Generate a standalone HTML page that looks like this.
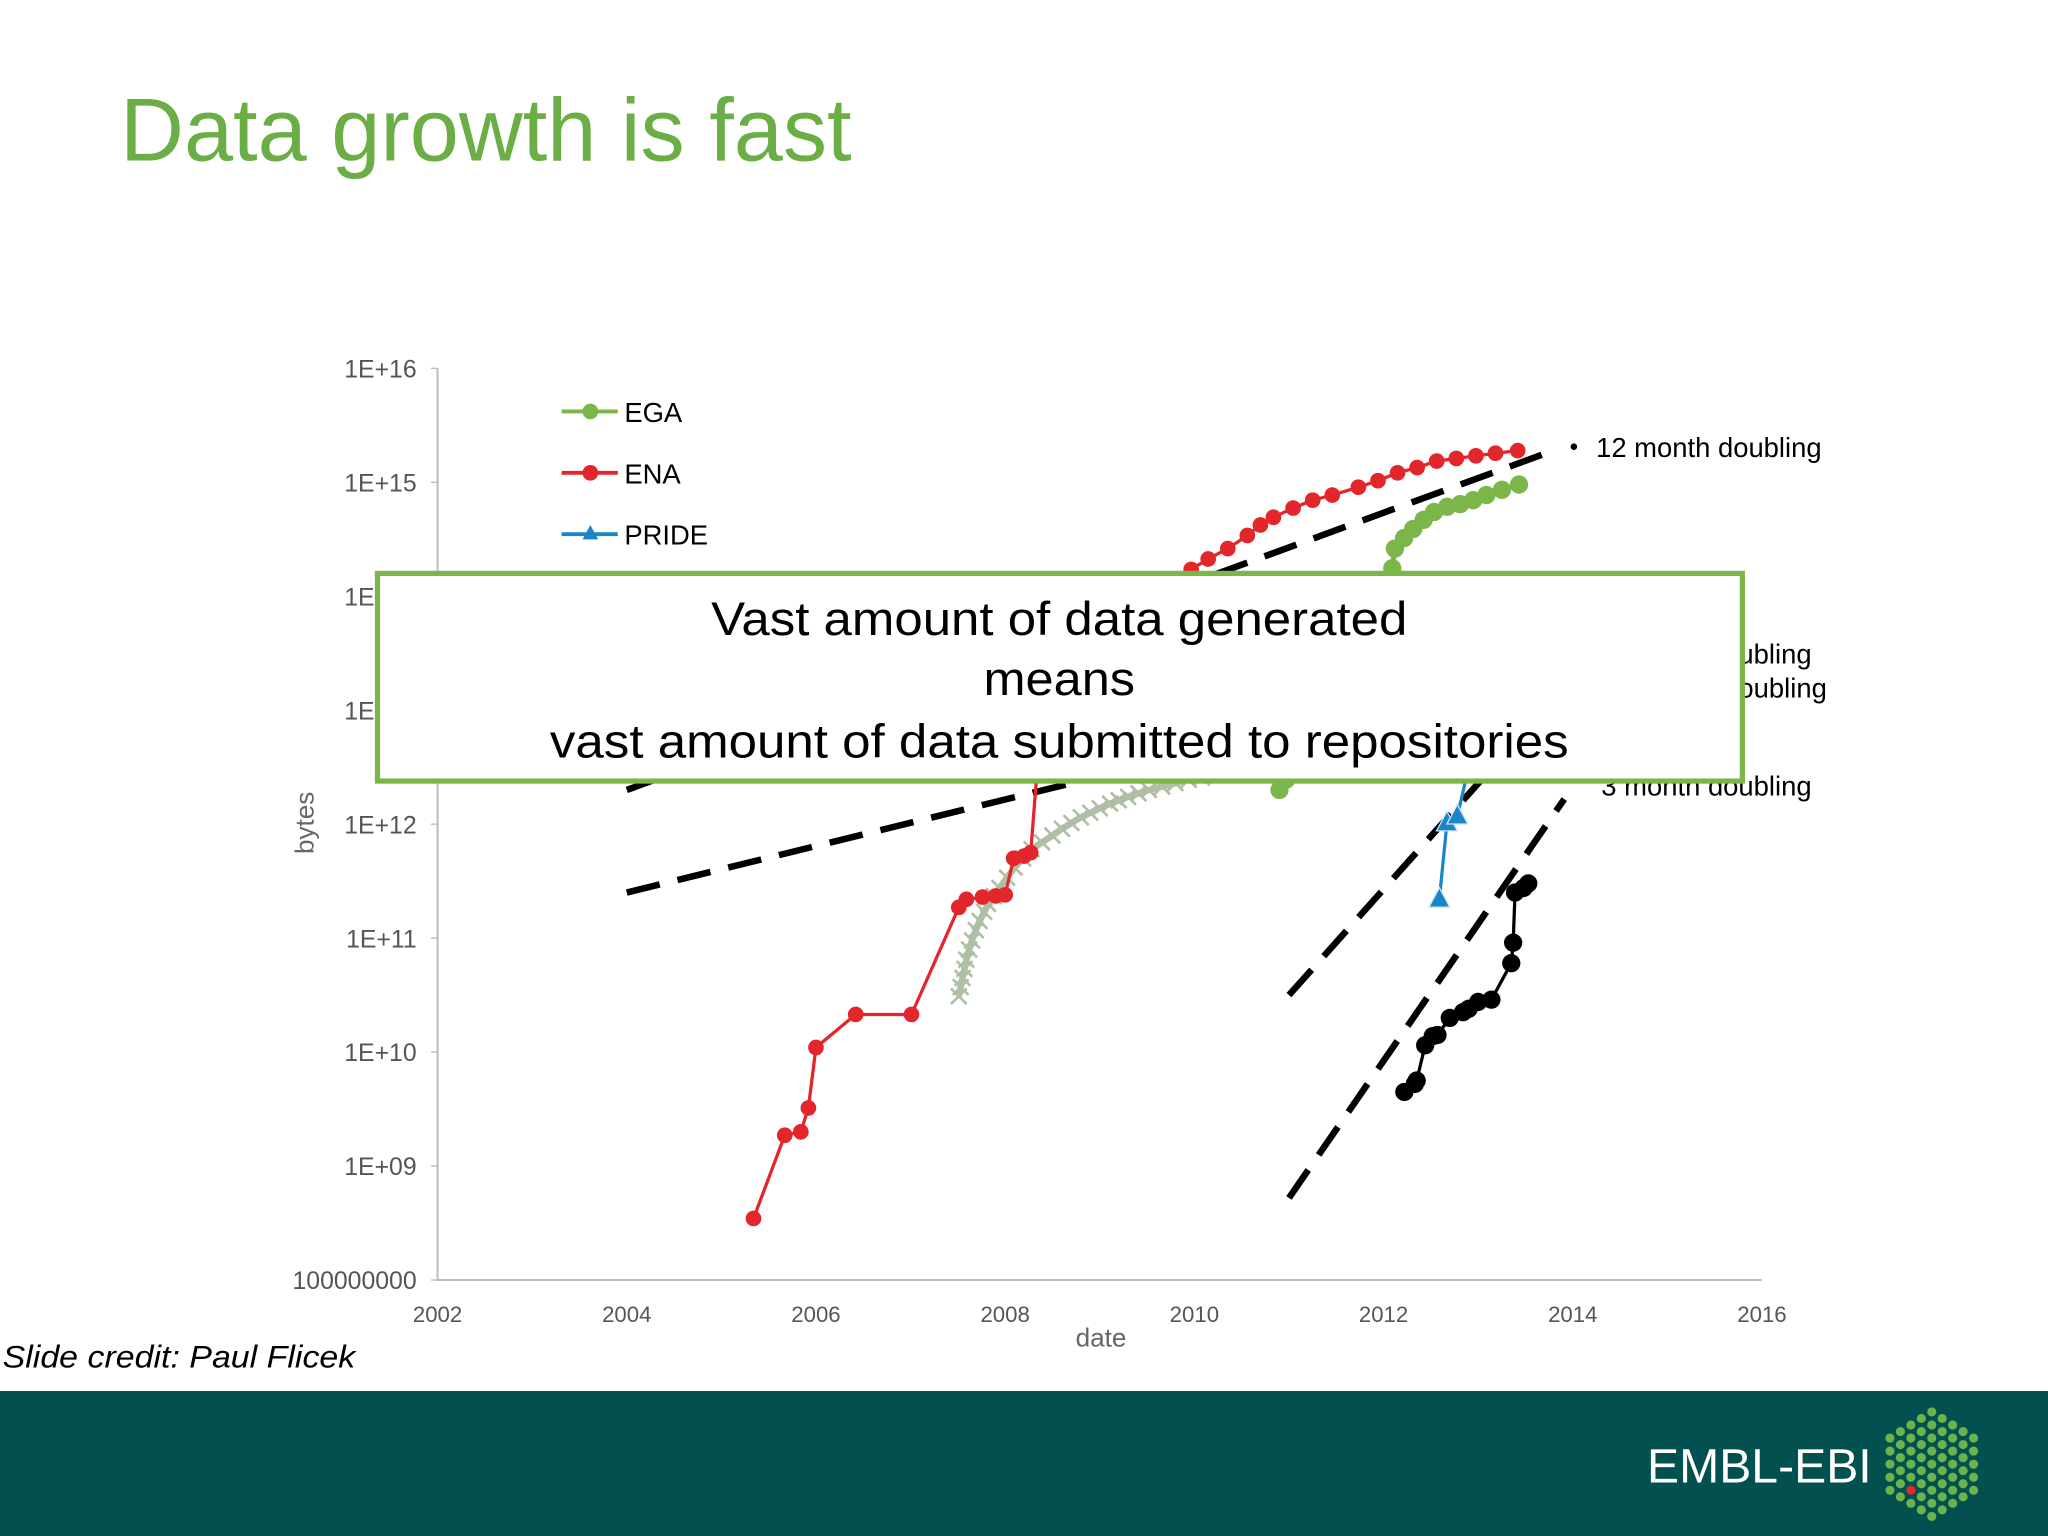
<!DOCTYPE html>
<html><head><meta charset="utf-8"><style>
html,body{margin:0;padding:0;background:#fff;}
svg{display:block;}
text{font-family:"Liberation Sans",sans-serif;}
</style></head><body>
<svg id="slide" width="2048" height="1536" viewBox="0 0 1568 1176" xmlns="http://www.w3.org/2000/svg">
<rect width="1568" height="1176" fill="#fff"/>
<text x="92" y="123" font-size="68" fill="#6aae45" textLength="560" lengthAdjust="spacingAndGlyphs">Data growth is fast</text>
<g id="chart"></g>
<g id="callout">
<rect x="289" y="439" width="1045" height="159" fill="#fff" stroke="#7ab648" stroke-width="4"/>
<text x="811" y="486" font-size="36" text-anchor="middle" fill="#000" textLength="533" lengthAdjust="spacingAndGlyphs">Vast amount of data generated</text>
<text x="811" y="532" font-size="36" text-anchor="middle" fill="#000" textLength="116" lengthAdjust="spacingAndGlyphs">means</text>
<text x="811" y="580" font-size="36" text-anchor="middle" fill="#000" textLength="780" lengthAdjust="spacingAndGlyphs">vast amount of data submitted to repositories</text>
</g>
<text x="2" y="1047" font-size="24" font-style="italic" fill="#000" textLength="270" lengthAdjust="spacingAndGlyphs">Slide credit: Paul Flicek</text>
<rect x="0" y="1065" width="1568" height="111" fill="#02504f"/>
<text x="1261" y="1135" font-size="37" fill="#fff" textLength="172" lengthAdjust="spacingAndGlyphs">EMBL-EBI</text>
<g id="logo"></g>
</svg>
<script>
// ---- data (year, log10 bytes) ----
const xTicks = [2002,2004,2006,2008,2010,2012,2014,2016];
const yTickExp = [8,9,10,11,12,13,14,15,16];
const yTickLabels = ["100000000","1E+09","1E+10","1E+11","1E+12","1E+13","1E+14","1E+15","1E+16"];
const enaYears = [2005.34,2005.67,2005.84,2005.92,2006.0,2006.42,2007.01,2007.51,2007.59,2007.76,2007.9,2008.0,2008.09,2008.2,2008.27,2008.35,2008.6,2009.0,2009.5,2009.966,2010.146,2010.353,2010.56,2010.698,2010.836,2011.044,2011.251,2011.458,2011.734,2011.941,2012.148,2012.355,2012.562,2012.769,2012.976,2013.183,2013.418];
const enaLog = [8.54,9.27,9.30,9.51,10.04,10.33,10.33,11.27,11.34,11.36,11.37,11.38,11.70,11.72,11.75,12.6,13.2,13.6,13.9,14.235,14.327,14.418,14.533,14.625,14.693,14.774,14.843,14.888,14.957,15.014,15.083,15.129,15.186,15.209,15.232,15.255,15.278];
const egaYears = [2010.9,2010.97,2011.5,2012.0,2012.092,2012.12,2012.217,2012.313,2012.424,2012.534,2012.672,2012.81,2012.948,2013.087,2013.252,2013.432];
const egaLog = [12.3,12.39,12.9,13.5,14.246,14.418,14.51,14.59,14.67,14.739,14.785,14.808,14.843,14.888,14.934,14.98];
const greyYears = [2007.51,2007.53,2007.55,2007.57,2007.59,2007.62,2007.65,2007.69,2007.73,2007.78,2007.82,2007.88,2007.94,2008.02,2008.1,2008.19,2008.28,2008.39,2008.5,2008.6,2008.7,2008.8,2008.9,2009.0,2009.11,2009.2,2009.3,2009.41,2009.52,2009.66,2009.8,2009.94,2010.08,2010.24,2010.4];
const greyLog = [10.49,10.57,10.65,10.73,10.81,10.9,10.98,11.07,11.15,11.23,11.3,11.37,11.44,11.53,11.62,11.7,11.78,11.84,11.9,11.96,12.01,12.06,12.1,12.14,12.18,12.21,12.24,12.27,12.30,12.33,12.36,12.39,12.41,12.44,12.46];
const prideYears = [2012.59,2012.67,2012.78,2012.9];
const prideLog = [11.34,12.01,12.07,12.5];
const blackYears = [2012.22,2012.33,2012.35,2012.44,2012.52,2012.57,2012.70,2012.84,2012.9,2013.0,2013.14,2013.35,2013.37,2013.39,2013.48,2013.53];
const blackLog = [9.65,9.72,9.75,10.06,10.14,10.15,10.30,10.35,10.38,10.44,10.46,10.78,10.96,11.40,11.44,11.48];
const trendStartYear = [2004.0,2004.0,2011.0,2011.0];
const trendStartLog = [12.30,11.40,10.5,8.72];
const trendEndYear = [2013.80,2013.80,2013.8,2013.91];
const trendEndLog = [15.28,13.4,13.1,12.22];
const trendLabels = ["12 month doubling","18 month doubling","6 month doubling","3 month doubling"];
const trendLabelY = [343,527,501,602];

// ---- axes ----
const X0=335, X1=1349, Y0=980, Y1=282;
const xs = y => X0 + (y-2002)/(2016-2002)*(X1-X0);
const ys = l => Y0 - (l-8)/(16-8)*(Y0-Y1);
const NS="http://www.w3.org/2000/svg";
const chart=document.getElementById('chart');
function mk(tag,attrs,parent){const e=document.createElementNS(NS,tag);for(const k in attrs)e.setAttribute(k,attrs[k]);(parent||chart).appendChild(e);return e;}

let a=mk('line',{x1:X0,y1:Y1,x2:X0,y2:Y0,stroke:'#bbb','stroke-width':1.5});


a=mk('line',{x1:X0,y1:Y0,x2:X1,y2:Y0,stroke:'#bbb','stroke-width':1.5});


yTickExp.forEach((e,i)=>{
  let t=mk('line',{x1:X0-5,x2:X0,y1:ys(e),y2:ys(e),stroke:'#bbb'});
  
  
  let tx=mk('text',{x:319,y:ys(e)+7,'font-size':19,'text-anchor':'end',fill:'#555'});
  tx.textContent=yTickLabels[i];
  
  
});
xTicks.forEach(v=>{
  let tx=mk('text',{x:xs(v),y:1012,'font-size':17,'text-anchor':'middle',fill:'#555'});
  tx.textContent=v;
  
  
});
let xt=mk('text',{x:843,y:1031,'font-size':20,'text-anchor':'middle',fill:'#666'});
xt.textContent='date';


let yt=mk('text',{x:240,y:630,'font-size':20,'text-anchor':'middle',fill:'#666',transform:'rotate(-90 240 630)'});
yt.textContent='bytes';



// trend lines
trendStartYear.forEach((s,i)=>{
  let l=mk('line',{x1:xs(s),y1:ys(trendStartLog[i]),x2:xs(trendEndYear[i]),y2:ys(trendEndLog[i]),stroke:'#000','stroke-width':5,'stroke-dasharray':'26 14'});
  
  
  let t=mk('text',{x:i==0?1222:1226,y:trendLabelY[i]+7,'font-size':21,fill:'#000'});
  t.textContent=trendLabels[i];
  
  
});
let dot=mk('circle',{cx:1205,cy:342,r:2.5,fill:'#000'});



function series(xsA,lsA,color,marker,name,w,r){
  const pts=xsA.map((x,i)=>xs(x)+','+ys(lsA[i])).join(' ');
  let p=mk('polyline',{points:pts,fill:'none',stroke:color,'stroke-width':w});
  
  
  xsA.forEach((x,i)=>{
    const cx=xs(x),cy=ys(lsA[i]);let m;
    if(marker==='circle') m=mk('circle',{cx:cx,cy:cy,r:r,fill:color});
    else if(marker==='tri') m=mk('polygon',{points:`${cx},${cy-9} ${cx-8},${cy+6} ${cx+8},${cy+6}`,fill:color,stroke:'#cfe3f3','stroke-width':1});
    else m=mk('path',{d:`M${cx-6},${cy-6}L${cx+6},${cy+6}M${cx-6},${cy+6}L${cx+6},${cy-6}`,stroke:color,'stroke-width':2});
    
    
  });
}
series(greyYears,greyLog,'#aebfa4','x','grey-series',5,0);
series(enaYears,enaLog,'#e3262b','circle','ena',2.5,6);
series(egaYears,egaLog,'#7ab648','circle','ega',4,7);
series(prideYears,prideLog,'#1a86c8','tri','pride',2.5,0);
series(blackYears,blackLog,'#000','circle','black-series',2.5,7);

// legend
const legNames=['EGA','ENA','PRIDE'], legColors=['#7ab648','#e3262b','#1a86c8'], legY=[315,362,409];
legNames.forEach((n,i)=>{
  let l=mk('line',{x1:430,x2:473,y1:legY[i],y2:legY[i],stroke:legColors[i],'stroke-width':3});
  
  
  let m = i<2? mk('circle',{cx:452,cy:legY[i],r:6,fill:legColors[i]}) : mk('polygon',{points:`452,${legY[i]-7} 446,${legY[i]+4} 458,${legY[i]+4}`,fill:legColors[i]});
  
  
  let t=mk('text',{x:478,y:legY[i]+8,'font-size':21,fill:'#000'});
  t.textContent=n;
  
  
});

// logo hexagon of dots
const logo=document.getElementById('logo');
for(let c=0;c<9;c++){
  const n=9-Math.abs(c-4);
  const cx=1447+c*8;
  for(let r=0;r<n;r++){
    const cy=1121-(n-1)*5+r*10;
    const red=(c==2&&r==5);
    let d=mk('circle',{cx:cx,cy:cy,r:3.5,fill:red?'#e3262b':'#6bb34a'},logo);
    
    
  }
}
</script>
</body></html>
